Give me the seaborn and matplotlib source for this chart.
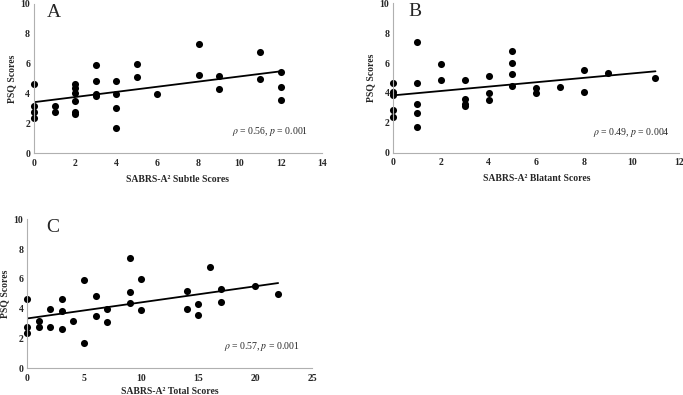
import matplotlib
matplotlib.use("Agg")
import matplotlib.pyplot as plt
import seaborn as sns

# Panel A: SABRS-A2 Subtle
a_x = [0, 0, 0, 0, 1, 1, 2, 2, 2, 2, 2, 2, 3, 3, 3, 3, 4, 4, 4, 4, 5, 5, 6, 8, 8, 9, 9, 11, 11, 12, 12, 12]
a_y = [4.62, 3.19, 2.79, 2.37, 3.19, 2.79, 4.62, 4.38, 4.02, 3.5, 2.79, 2.65, 5.92, 4.84, 3.95, 3.85,
       4.84, 3.95, 3.06, 1.7, 6.0, 5.1, 3.97, 7.34, 5.27, 5.18, 4.29, 6.76, 4.98, 5.47, 4.42, 3.57]

# Panel B: SABRS-A2 Blatant
b_x = [0, 0, 0, 0, 0, 1, 1, 1, 1, 1, 2, 2, 3, 3, 3, 3, 4, 4, 4, 5, 5, 5, 5, 6, 6, 7, 8, 8, 9, 11]
b_y = [4.67, 4.04, 3.86, 2.83, 2.39, 7.39, 4.67, 3.24, 2.68, 1.74, 5.96, 4.89, 4.89, 3.59, 3.28, 3.1,
       5.16, 3.97, 3.53, 6.81, 6.03, 5.25, 4.49, 4.33, 3.97, 4.4, 5.52, 4.04, 5.33, 5.02]

# Panel C: SABRS-A2 Total
c_x = [0, 0, 0, 1, 1, 2, 2, 3, 3, 3, 4, 5, 5, 6, 6, 7, 7, 9, 9, 9, 10, 10, 14, 14, 15, 15, 16, 17, 17, 20, 22]
c_y = [4.63, 2.8, 2.35, 3.2, 2.8, 4.0, 2.8, 4.63, 3.87, 2.64, 3.2, 5.93, 1.72, 4.88, 3.49, 3.96, 3.09,
       7.38, 5.15, 4.36, 6.02, 3.94, 5.21, 4.0, 4.29, 3.58, 6.8, 5.3, 4.45, 5.53, 5.01]

letters = ["A", "B", "C"]
xlabels = ["SABRS-A² Subtle Scores", "SABRS-A² Blatant Scores", "SABRS-A² Total Scores"]
stats = [("0.56", "0.001"), ("0.49", "0.004"), ("0.57", "0.001")]
xmax = [14, 12, 25]
xstep = [2, 2, 5]

sns.set_theme(style="white")
plt.rcParams['font.family'] = ['Liberation Serif', 'DejaVu Serif']
plt.rcParams['mathtext.fontset'] = 'stix'

fig = plt.figure(figsize=(6.83, 3.95), dpi=100)
positions = [
    [0.0502, 0.612, 0.4208, 0.378],
    [0.5759, 0.6134, 0.4187, 0.378],
    [0.0400, 0.0676, 0.4173, 0.377],
]
text_pos = [(0.952, 0.143), (0.967, 0.137), (0.957, 0.145)]
letter_pos = [0.044, 0.052, 0.068]
xpads = [5, 5, 3]

data = [(a_x, a_y), (b_x, b_y), (c_x, c_y)]
for i, (xs, ys) in enumerate(data):
    ax = fig.add_axes(positions[i])
    sns.regplot(x=xs, y=ys, ax=ax, ci=None,
                scatter_kws=dict(s=26, color='black', linewidths=0, clip_on=False, alpha=1),
                line_kws=dict(color='black', lw=1.3))
    ax.set_xlim(0, xmax[i])
    ax.set_ylim(0, 10)
    ax.set_xticks(range(0, xmax[i] + 1, xstep[i]))
    ax.set_yticks(range(0, 11, 2))
    for lab in ax.get_xticklabels() + ax.get_yticklabels():
        lab.set_fontweight('bold')
    ax.tick_params(axis='both', length=0, labelsize=7, pad=4)
    ax.tick_params(axis='y', pad=3)
    sns.despine(ax=ax)
    for s in ['left', 'bottom']:
        ax.spines[s].set_color('#b0b0b0')
        ax.spines[s].set_linewidth(0.8)
    ax.set_xlabel(xlabels[i], fontsize=7, fontweight='bold', labelpad=xpads[i])
    ax.set_ylabel("PSQ Scores", fontsize=7, fontweight='bold', labelpad=3)
    ax.text(letter_pos[i], 1.0, letters[i], transform=ax.transAxes, fontsize=14,
            ha='left', va='top')
    rho, p = stats[i]
    ax.text(text_pos[i][0], text_pos[i][1],
            r"$\rho$" + f" = {rho}, " + r"$p$" + f" = {p}",
            transform=ax.transAxes, fontsize=7, ha='right', va='center')

fig.savefig("out.png", dpi=100)
